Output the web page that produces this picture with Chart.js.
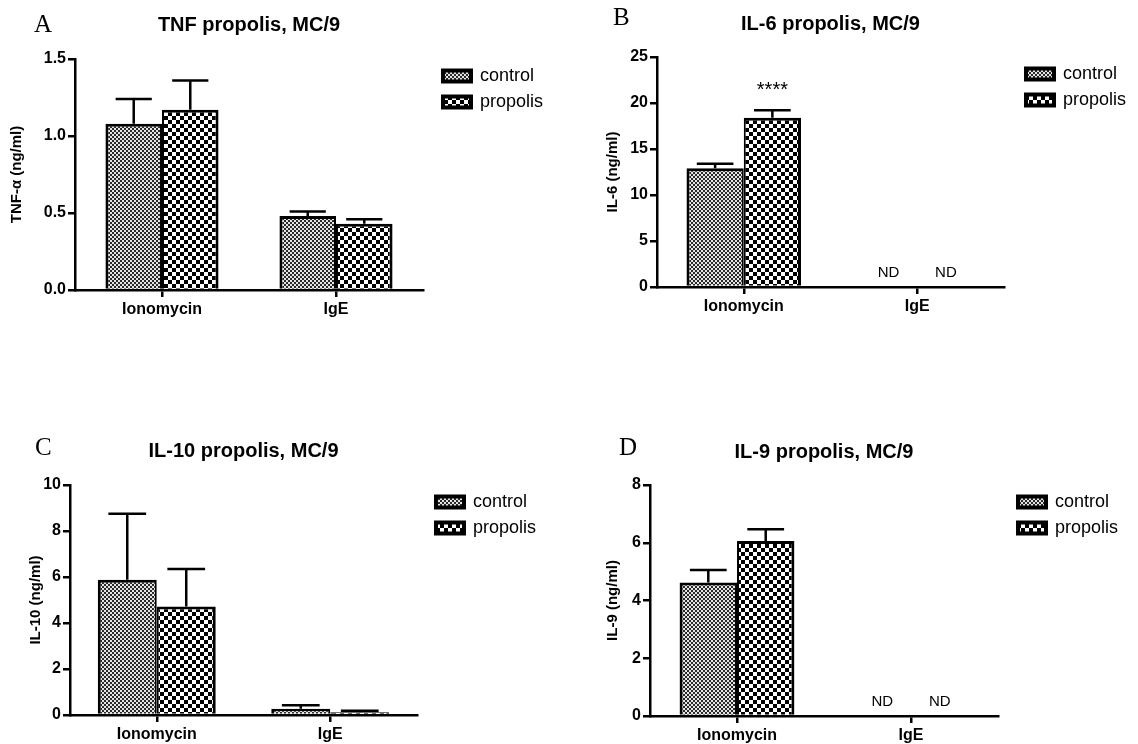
<!DOCTYPE html>
<html>
<head>
<meta charset="utf-8">
<script src="https://cdn.jsdelivr.net/npm/chart.js@4.4.1/dist/chart.umd.min.js"></script>
<style>
  html, body { margin: 0; padding: 0; background: #fff; }
  body { width: 1138px; height: 744px; position: relative; overflow: hidden; }
  canvas { position: absolute; }
  .letter { position: absolute; font-family: "Liberation Serif", serif; font-size: 25px; line-height: 1; color: #000; }
</style>
</head>
<body>
<canvas id="chartA" width="569" height="372" style="left:0;top:0"></canvas>
<canvas id="chartB" width="569" height="372" style="left:569px;top:0"></canvas>
<canvas id="chartC" width="569" height="372" style="left:0;top:372px"></canvas>
<canvas id="chartD" width="569" height="372" style="left:569px;top:372px"></canvas>
<div class="letter" style="left:34px;top:11px">A</div>
<div class="letter" style="left:613px;top:4px">B</div>
<div class="letter" style="left:35px;top:434px">C</div>
<div class="letter" style="left:619px;top:434px">D</div>
<script>
// ---------- data ----------
const categories = ["Ionomycin", "IgE"];
const seriesNames = ["control", "propolis"];

// A: TNF-alpha
const tnfControl = [1.08, 0.48];
const tnfControlSem = [0.16, 0.03];
const tnfPropolis = [1.17, 0.43];
const tnfPropolisSem = [0.19, 0.03];
const tnfTicks = ["0.0", "0.5", "1.0", "1.5"];

// B: IL-6 (IgE not detected)
const il6Control = [12.9, null];
const il6ControlSem = [0.5, null];
const il6Propolis = [18.4, null];
const il6PropolisSem = [0.8, null];
const il6ControlNotes = [null, "ND"];
const il6PropolisNotes = ["****", "ND"];
const il6Ticks = ["0", "5", "10", "15", "20", "25"];

// C: IL-10
const il10Control = [5.88, 0.27];
const il10ControlSem = [2.87, 0.15];
const il10Propolis = [4.72, 0.12];
const il10PropolisSem = [1.63, 0.06];
const il10Ticks = ["0", "2", "4", "6", "8", "10"];

// D: IL-9 (IgE not detected)
const il9Control = [4.62, null];
const il9ControlSem = [0.44, null];
const il9Propolis = [6.06, null];
const il9PropolisSem = [0.41, null];
const il9ControlNotes = [null, "ND"];
const il9PropolisNotes = [null, "ND"];
const il9Ticks = ["0", "2", "4", "6", "8"];

// ---------- styles ----------
const FONT = "Liberation Sans";
Chart.defaults.font.family = FONT;
Chart.defaults.color = "#000";

function checker(cell, dark, light) {
  const c = document.createElement("canvas");
  c.width = c.height = cell * 2;
  const g = c.getContext("2d");
  g.fillStyle = light;
  g.fillRect(0, 0, cell * 2, cell * 2);
  g.fillStyle = dark;
  g.fillRect(0, 0, cell, cell);
  g.fillRect(cell, cell, cell, cell);
  return g.createPattern(c, "repeat");
}
const controlFill = checker(2, "#2a2a2a", "#e4e4e4");
const propolisFill = checker(4, "#000", "#fff");

// ---------- plugins ----------
const errorBars = {
  id: "errorBars",
  afterDatasetsDraw(chart) {
    const ctx = chart.ctx;
    const y = chart.scales.y;
    chart.data.datasets.forEach((ds, di) => {
      chart.getDatasetMeta(di).data.forEach((bar, i) => {
        const v = ds.data[i];
        const e = ds.sem ? ds.sem[i] : null;
        if (v == null || e == null) return;
        const top = y.getPixelForValue(v + e);
        const cap = bar.width * 0.32;
        ctx.save();
        ctx.strokeStyle = "#000";
        ctx.lineWidth = 2.5;
        ctx.beginPath();
        ctx.moveTo(bar.x, bar.y);
        ctx.lineTo(bar.x, top);
        ctx.moveTo(bar.x - cap, top);
        ctx.lineTo(bar.x + cap, top);
        ctx.stroke();
        ctx.restore();
      });
    });
  },
};

const notes = {
  id: "notes",
  afterDatasetsDraw(chart) {
    const ctx = chart.ctx;
    const y = chart.scales.y;
    chart.data.datasets.forEach((ds, di) => {
      if (!ds.notes) return;
      chart.getDatasetMeta(di).data.forEach((bar, i) => {
        const txt = ds.notes[i];
        if (!txt) return;
        const v = ds.data[i];
        let py;
        ctx.save();
        ctx.fillStyle = "#000";
        ctx.textAlign = "center";
        ctx.textBaseline = "middle";
        if (v == null) {
          py = y.getPixelForValue(0) - 14;
          ctx.font = "15px " + FONT;
        } else {
          py = y.getPixelForValue(v + (ds.sem[i] || 0)) - 20;
          ctx.font = "20px " + FONT;
        }
        ctx.fillText(txt, bar.x, py);
        ctx.restore();
      });
    });
  },
};

// ---------- panels ----------
const panels = [
  {
    id: "chartA", title: "TNF propolis, MC/9", yTitle: "TNF-α (ng/ml)",
    control: tnfControl, controlSem: tnfControlSem,
    propolis: tnfPropolis, propolisSem: tnfPropolisSem,
    ticks: tnfTicks, yMax: 1.5, step: 0.5,
    layout: { yWidth: 75, yTitlePad: 8, gap: 12, padRight: 22, titleTop: 13, titleBottom: 22, xHeight: 82, catPct: 0.65 },
  },
  {
    id: "chartB", title: "IL-6 propolis, MC/9", yTitle: "IL-6 (ng/ml)",
    control: il6Control, controlSem: il6ControlSem, controlNotes: il6ControlNotes,
    propolis: il6Propolis, propolisSem: il6PropolisSem, propolisNotes: il6PropolisNotes,
    ticks: il6Ticks, yMax: 25, step: 5,
    layout: { yWidth: 88, yTitlePad: 35, gap: 14, padRight: 8, titleTop: 12, titleBottom: 21, xHeight: 85, catPct: 0.66 },
  },
  {
    id: "chartC", title: "IL-10 propolis, MC/9", yTitle: "IL-10 (ng/ml)",
    control: il10Control, controlSem: il10ControlSem,
    propolis: il10Propolis, propolisSem: il10PropolisSem,
    ticks: il10Ticks, yMax: 10, step: 2,
    layout: { yWidth: 70, yTitlePad: 27, gap: 11, padRight: 29, titleTop: 67, titleBottom: 22, xHeight: 29, catPct: 0.68 },
  },
  {
    id: "chartD", title: "IL-9 propolis, MC/9", yTitle: "IL-9 (ng/ml)",
    control: il9Control, controlSem: il9ControlSem, controlNotes: il9ControlNotes,
    propolis: il9Propolis, propolisSem: il9PropolisSem, propolisNotes: il9PropolisNotes,
    ticks: il9Ticks, yMax: 8, step: 2,
    layout: { yWidth: 81, yTitlePad: 35, gap: 12, padRight: 16, titleTop: 68, titleBottom: 21, xHeight: 28, catPct: 0.66 },
  },
];

function buildChart(p) {
  const L = p.layout;
  return new Chart(document.getElementById(p.id), {
    type: "bar",
    data: {
      labels: categories,
      datasets: [
        {
          label: seriesNames[0],
          data: p.control,
          sem: p.controlSem,
          notes: p.controlNotes,
          backgroundColor: controlFill,
          borderColor: "#000",
          borderWidth: { top: 3, left: 3, right: 2, bottom: 0 },
          barPercentage: 1,
          categoryPercentage: L.catPct,
        },
        {
          label: seriesNames[1],
          data: p.propolis,
          sem: p.propolisSem,
          notes: p.propolisNotes,
          backgroundColor: propolisFill,
          borderColor: "#000",
          borderWidth: { top: 3, left: 2, right: 3, bottom: 0 },
          barPercentage: 1,
          categoryPercentage: L.catPct,
        },
      ],
    },
    options: {
      responsive: false,
      animation: false,
      events: [],
      layout: { padding: { left: 0, right: L.padRight, top: 0, bottom: 0 } },
      plugins: {
        tooltip: { enabled: false },
        title: {
          display: true,
          text: p.title,
          fullSize: false,
          color: "#000",
          font: { family: FONT, size: 20, weight: "bold" },
          padding: { top: L.titleTop, bottom: L.titleBottom },
        },
        legend: {
          position: "right",
          align: "start",
          fullSize: false,
          maxWidth: 112,
          labels: {
            boxWidth: 28,
            boxHeight: 11,
            padding: 8,
            color: "#000",
            font: { family: FONT, size: 18 },
            generateLabels: (chart) =>
              Chart.defaults.plugins.legend.labels
                .generateLabels(chart)
                .map((l) => ({ ...l, lineWidth: 4 })),
          },
        },
      },
      scales: {
        x: {
          offset: true,
          grid: { offset: false, drawOnChartArea: false, tickLength: 7, color: "#000", lineWidth: 2.5 },
          border: { display: true, color: "#000", width: 2.5 },
          ticks: { color: "#000", font: { size: 16, weight: "bold" }, padding: 3, maxRotation: 0, autoSkip: false },
          afterFit: (s) => { s.height = L.xHeight; },
        },
        y: {
          min: 0,
          max: p.yMax,
          grid: { drawOnChartArea: false, tickLength: 7, color: "#000", lineWidth: 2.5 },
          border: { display: true, color: "#000", width: 2.5 },
          ticks: {
            stepSize: p.step,
            color: "#000",
            padding: 2,
            font: { size: 16, weight: "bold" },
            callback: (v, i) => p.ticks[i],
          },
          title: {
            display: true,
            text: p.yTitle,
            color: "#000",
            font: { size: 15, weight: "bold" },
            padding: { top: L.yTitlePad, bottom: 0 },
          },
          afterFit: (s) => { s.width = L.yWidth; },
        },
        // empty spacer between plot and legend
        gap: {
          type: "linear",
          position: "right",
          display: true,
          grid: { display: false, drawTicks: false },
          border: { display: false },
          ticks: { display: false },
          afterFit: (s) => { s.width = L.gap; },
        },
      },
    },
    plugins: [errorBars, notes],
  });
}

panels.forEach(buildChart);
</script>
</body>
</html>
